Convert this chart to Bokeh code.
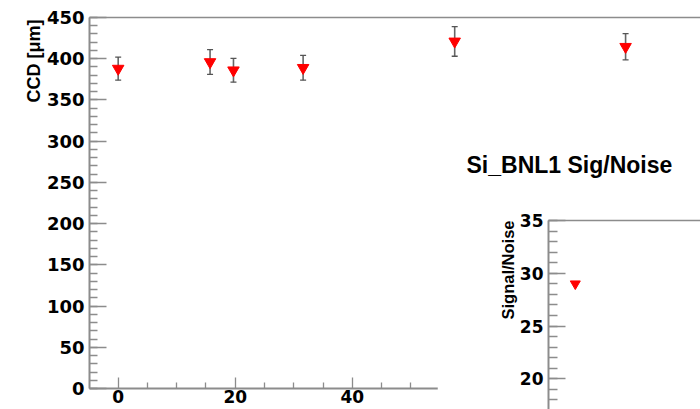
from bokeh.plotting import figure
from bokeh.models import (ColumnDataSource, Whisker, TeeHead, LinearAxis, FixedTicker,
                          SingleIntervalTicker, Range1d, Title)
from bokeh.layouts import column
from bokeh.embed import file_html
from bokeh.resources import INLINE

# ---- data ----
run_x = [0, 15.7, 19.7, 31.6, 57.5, 86.7]
ccd_um = [388, 396, 386, 389, 421, 414.5]
ccd_err = [14, 15, 14.5, 15, 18, 16]

x_major_ticks = [0, 20, 40]
x_minor_ticks = [5, 10, 15, 25, 30, 35, 45, 50]

sn_x = [0]
sn_val = [29.0]

# ---- style ----
GRAY = "#8c8c8c"
FONT = "Liberation Sans"
TICK_FONT = "DejaVu Sans"


def style_axis(ax, major_in, minor_in, size="17px"):
    ax.axis_line_color = GRAY
    ax.axis_line_width = 2
    ax.major_tick_line_color = GRAY
    ax.minor_tick_line_color = GRAY
    ax.major_tick_line_width = 1.3
    ax.minor_tick_line_width = 1.3
    ax.major_tick_in = major_in
    ax.major_tick_out = 0
    ax.minor_tick_in = minor_in
    ax.minor_tick_out = 0
    ax.major_label_text_font = TICK_FONT
    ax.major_label_text_font_style = "bold"
    ax.major_label_text_font_size = size
    ax.major_label_text_color = "black"


def frame_line(fig):
    top = LinearAxis(ticker=FixedTicker(ticks=[]))
    top.axis_line_color = GRAY
    top.axis_line_width = 1.5
    top.major_tick_in = 0
    top.major_tick_out = 0
    top.minor_tick_in = 0
    top.minor_tick_out = 0
    top.major_label_text_font_size = "0px"
    top.major_label_standoff = 0
    fig.add_layout(top, "above")


def side_title(fig, text, size, offset=0):
    t = Title(text=text, align="right", offset=offset, standoff=0,
              text_font=FONT, text_font_style="bold", text_font_size=size,
              text_color="black")
    fig.add_layout(t, "left")


# ---- main plot ----
lo = [v - e for v, e in zip(ccd_um, ccd_err)]
hi = [v + e for v, e in zip(ccd_um, ccd_err)]
src = ColumnDataSource(dict(x=run_x, y=ccd_um, lo=lo, hi=hi))

main = figure(width=700, height=409,
              x_range=Range1d(-4.9, 99.5), y_range=Range1d(0, 450),
              output_backend="svg", toolbar_location=None,
              x_axis_type=None, y_axis_type=None,
              min_border_left=89, min_border_top=17, min_border_right=0, min_border_bottom=21,
              outline_line_color=None, frame_align=False,
              background_fill_color="white", border_fill_color="white")
main.xgrid.visible = False
main.ygrid.visible = False

yax = LinearAxis(ticker=SingleIntervalTicker(interval=50, num_minor_ticks=5))
style_axis(yax, 17, 8, size="18px")
yax.major_label_standoff = 5
main.add_layout(yax, "left")
side_title(main, "CCD [μm]", "18px", offset=2)

xax = LinearAxis(ticker=FixedTicker(ticks=x_major_ticks, minor_ticks=x_minor_ticks))
style_axis(xax, 11, 6)
xax.major_label_standoff = 1
main.add_layout(xax, "below")
frame_line(main)

wh = Whisker(source=src, base="x", lower="lo", upper="hi",
             line_color="#666666", line_width=1.6, level="underlay",
             upper_head=TeeHead(size=6, line_color="#555555", line_width=1.3),
             lower_head=TeeHead(size=6, line_color="#555555", line_width=1.3))
main.add_layout(wh)
main.scatter("x", "y", source=src, marker="inverted_triangle", size=11.5,
             fill_color="red", line_color="red")

# ---- inset plot ----
inset = figure(width=263, height=309,
               x_range=Range1d(-4.6, 21.5), y_range=Range1d(17.09, 35),
               output_backend="svg", toolbar_location=None,
               x_axis_type=None, y_axis_type=None,
               min_border_left=111, min_border_top=120, min_border_right=0, min_border_bottom=0,
               outline_line_color=None, title="Si_BNL1 Sig/Noise", frame_align=False,
               background_fill_color="white", border_fill_color="white",
               styles={"position": "absolute", "left": "437px", "top": "100px"})
inset.xgrid.visible = False
inset.ygrid.visible = False
inset.title.align = "left"
inset.title.offset = -82
inset.title.standoff = 85
inset.title.text_font = FONT
inset.title.text_font_style = "bold"
inset.title.text_font_size = "23px"
inset.title.text_color = "black"

iy = LinearAxis(ticker=SingleIntervalTicker(interval=5, num_minor_ticks=5))
style_axis(iy, 17, 9)
iy.major_label_standoff = 5
inset.add_layout(iy, "left")
side_title(inset, "Signal/Noise", "16.5px")
frame_line(inset)

inset.scatter(sn_x, sn_val, marker="inverted_triangle", size=10,
              fill_color="red", line_color="red")

root = column(main, inset, styles={"position": "relative"})

open("out.html", "w").write(file_html(root, INLINE))
